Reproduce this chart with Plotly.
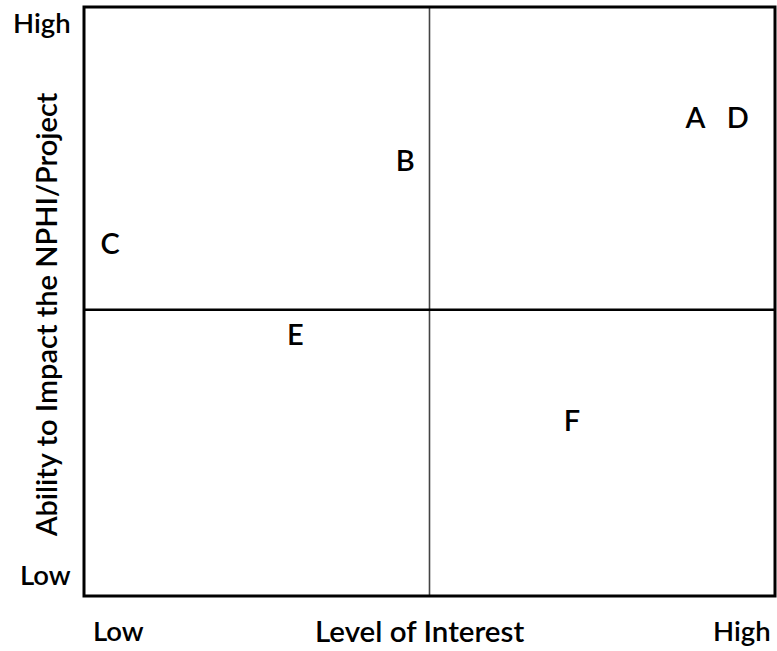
import plotly.graph_objects as go

# Stakeholder labels and positions (0-10 scale)
labels = ["A", "D", "B", "C", "E", "F"]
interest = [8.85, 9.46, 4.65, 0.38, 3.06, 7.06]
impact = [8.07, 8.07, 7.34, 5.93, 4.39, 2.92]

# Quadrant divider positions
x_divider = 5.0
y_divider = 4.86

# Axis texts
x_tick_labels = ["Low", "High"]
x_tick_pos = [0.05, 0.952]
x_title = "Level of Interest"
y_tick_labels = ["High", "Low"]
y_tick_pos = [0.974, 0.036]
y_title = "Ability to Impact the NPHI/Project"

FONT = "Lato"
W = 600

fig = go.Figure()
fig.add_trace(go.Scatter(
    x=interest, y=impact, mode="text", text=labels,
    textposition="middle center",
    textfont=dict(family=FONT, size=29, color="black", weight=W),
    hoverinfo="skip", showlegend=False,
))

fig.add_shape(type="line", xref="x", yref="paper", x0=x_divider, x1=x_divider, y0=0, y1=1,
              line=dict(color="#444444", width=1.6))
fig.add_shape(type="line", xref="paper", yref="y", x0=0, x1=1, y0=y_divider, y1=y_divider,
              line=dict(color="black", width=2.5))
fig.add_shape(type="rect", xref="paper", yref="paper", x0=0, x1=1, y0=0, y1=1,
              line=dict(color="black", width=3))

for t, p in zip(x_tick_labels, x_tick_pos):
    fig.add_annotation(text=t, x=p, y=-0.058, xref="paper", yref="paper",
                       xanchor="center", yanchor="middle", showarrow=False,
                       font=dict(family=FONT, size=27.5, color="black", weight=W))
fig.add_annotation(text=x_title, x=0.485, y=-0.058, xref="paper", yref="paper",
                   xanchor="center", yanchor="middle", showarrow=False,
                   font=dict(family=FONT, size=29.5, color="black", weight=W))
for t, p in zip(y_tick_labels, y_tick_pos):
    fig.add_annotation(text=t, x=0, y=p, xref="paper", yref="paper", xshift=-11,
                       xanchor="right", yanchor="middle", showarrow=False,
                       font=dict(family=FONT, size=27.5, color="black", weight=W))
fig.add_annotation(text=y_title, x=-0.056, y=0.477, xref="paper", yref="paper",
                   textangle=-90, xanchor="center", yanchor="middle", showarrow=False,
                   font=dict(family=FONT, size=29, color="black", weight=W))

fig.update_xaxes(range=[0, 10], visible=False, fixedrange=True)
fig.update_yaxes(range=[0, 10], visible=False, fixedrange=True)
fig.update_layout(
    width=777, height=651,
    margin=dict(l=84, r=1.5, t=6.5, b=54.5),
    plot_bgcolor="white", paper_bgcolor="white",
)
fig.write_html(
    "out.html",
    config={"displayModeBar": False},
    post_script="document.body.style.margin='0';document.body.style.overflow='hidden';",
)
